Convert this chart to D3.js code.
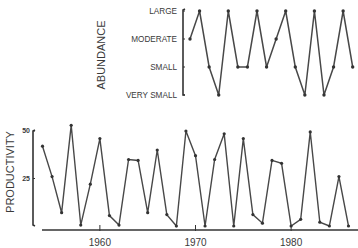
<!DOCTYPE html>
<html><head><meta charset="utf-8">
<script src="https://cdn.jsdelivr.net/npm/d3@7"></script>
<style>
html,body{margin:0;padding:0;background:#fff;}
svg{display:block;}
text{font-family:"Liberation Sans",Arial,sans-serif;fill:#3a3a3a;}
</style></head>
<body>
<svg id="c" width="358" height="248"></svg>
<script>
// ---- data ----
const prodYears = d3.range(1954, 1987);
const productivity = [42,26,7,53,0.5,22,46,5.5,0.5,35,34.5,7,40,6,0,50,37,0,35,48.5,0,46,6,1.5,34.5,33,0,3.5,49.5,2,0,26,0];
const abundYears = d3.range(1969, 1987);
const abundLevels = ["VERY SMALL","SMALL","MODERATE","LARGE"];
const abundance = ["MODERATE","LARGE","SMALL","VERY SMALL","LARGE","SMALL","SMALL","LARGE","SMALL","MODERATE","LARGE","SMALL","VERY SMALL","LARGE","VERY SMALL","SMALL","LARGE","SMALL"];
const yearTicks = [1960, 1970, 1980];
const prodTicks = [25, 50];

const svg = d3.select("#c");
const lineCol = "#484848", axisCol = "#333";

// ---- productivity panel ----
const x = d3.scaleLinear().domain([1954, 1986]).range([42.5, 348.5]);
const y = d3.scaleLinear().domain([0, 50]).range([226, 131]);

// x axis
svg.append("line").attr("x1", 42).attr("x2", 358).attr("y1", 230).attr("y2", 230)
  .attr("stroke", axisCol).attr("stroke-width", 1.6);
svg.selectAll(".xt").data(yearTicks).join("line")
  .attr("x1", d => x(d)).attr("x2", d => x(d)).attr("y1", 225).attr("y2", 231)
  .attr("stroke", axisCol).attr("stroke-width", 1);
svg.selectAll(".xl").data(yearTicks).join("text")
  .attr("x", d => x(d)).attr("y", 246).attr("text-anchor", "middle")
  .attr("font-size", 10).text(d => d);

// y axis
svg.append("path")
  .attr("d", `M35,${y(50)-1} L33,${y(50)} L33,${y(0)-1} L35,${y(0)}`)
  .attr("fill", "none").attr("stroke", axisCol).attr("stroke-width", 1.6);
svg.selectAll(".yt").data(prodTicks).join("line")
  .attr("x1", 33).attr("x2", 35).attr("y1", d => y(d)).attr("y2", d => y(d))
  .attr("stroke", axisCol).attr("stroke-width", 1);
svg.selectAll(".yl").data(prodTicks).join("text")
  .attr("x", 30).attr("y", d => y(d)).attr("dy", "0.35em").attr("text-anchor", "end")
  .attr("font-size", 7).attr("font-weight", "bold").text(d => d);

svg.append("text").attr("transform", "translate(14,172) rotate(-90)")
  .attr("text-anchor", "middle").attr("font-size", 11).text("PRODUCTIVITY");

const pLine = d3.line().x((d, i) => x(prodYears[i])).y(d => y(d));
svg.append("path").datum(productivity).attr("d", pLine)
  .attr("fill", "none").attr("stroke", lineCol).attr("stroke-width", 1.4);
svg.selectAll(".pp").data(productivity).join("circle")
  .attr("cx", (d, i) => x(prodYears[i])).attr("cy", d => y(d)).attr("r", 1.6)
  .attr("fill", "#333");

// ---- abundance panel ----
const xa = d3.scaleLinear().domain([1969, 1986]).range([190, 352.7]);
const ya = d3.scalePoint().domain(abundLevels).range([95, 11]);

svg.append("path")
  .attr("d", `M185,${ya("LARGE")-2} L183,${ya("LARGE")-1} L183,${ya("VERY SMALL")} L185,${ya("VERY SMALL")}`)
  .attr("fill", "none").attr("stroke", axisCol).attr("stroke-width", 1.6);
svg.selectAll(".at").data(abundLevels).join("line")
  .attr("x1", 183).attr("x2", 185).attr("y1", d => ya(d)).attr("y2", d => ya(d))
  .attr("stroke", axisCol).attr("stroke-width", 1);
svg.selectAll(".al").data(abundLevels).join("text")
  .attr("x", 177).attr("y", d => ya(d)).attr("dy", "0.35em").attr("text-anchor", "end")
  .attr("font-size", 8.2).text(d => d);

svg.append("text").attr("transform", "translate(105,55) rotate(-90)")
  .attr("text-anchor", "middle").attr("font-size", 11).text("ABUNDANCE");

const aLine = d3.line().x((d, i) => xa(abundYears[i])).y(d => ya(d));
svg.append("path").datum(abundance).attr("d", aLine)
  .attr("fill", "none").attr("stroke", lineCol).attr("stroke-width", 1.5);
svg.selectAll(".ap").data(abundance).join("circle")
  .attr("cx", (d, i) => xa(abundYears[i])).attr("cy", d => ya(d)).attr("r", 1.7)
  .attr("fill", "#333");
</script>
</body></html>
